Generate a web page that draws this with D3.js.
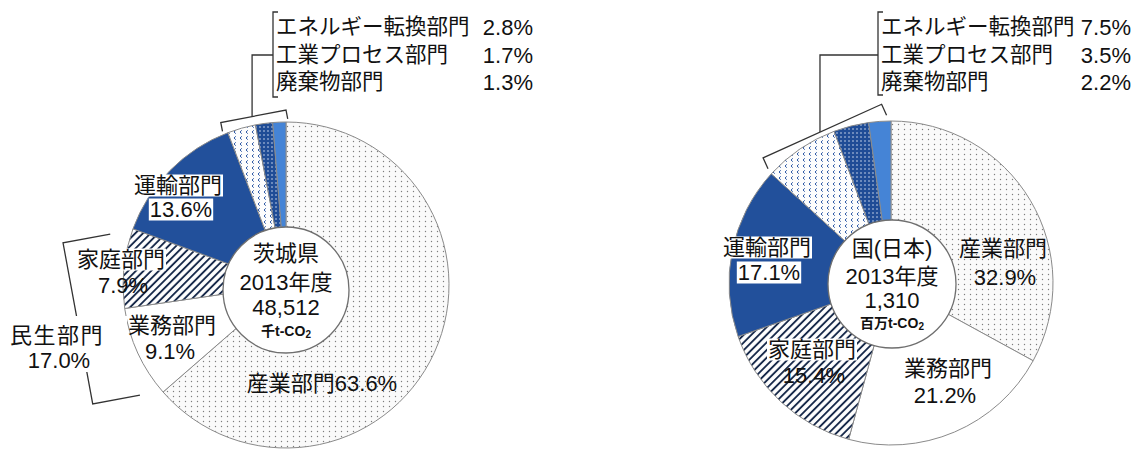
<!DOCTYPE html>
<html><head><meta charset="utf-8">
<script src="https://cdn.jsdelivr.net/npm/d3@7"></script>
<style>
body{margin:0;background:#fff}
text{font-family:"Liberation Sans","Noto Sans CJK JP",sans-serif;fill:#111}
</style></head>
<body><svg id="c" width="1140" height="451"></svg>
<script>
// ---- data ----
const categories = ["産業部門","業務部門","家庭部門","運輸部門","エネルギー転換部門","工業プロセス部門","廃棄物部門"];
const ibarakiValues = [63.6, 9.1, 7.9, 13.6, 2.8, 1.7, 1.3];
const japanValues   = [32.9, 21.2, 15.4, 17.1, 7.5, 3.5, 2.2];
const ibarakiTitle = ["茨城県","2013年度","48,512"];
const ibarakiUnit = "千t-CO";
const japanTitle = ["国(日本)","2013年度","1,310"];
const japanUnit = "百万t-CO";
const smallGroup = ["エネルギー転換部門","工業プロセス部門","廃棄物部門"];
const minseiGroup = ["業務部門","家庭部門"];
const minseiText = ["民生部門","17.0%"];

// ---- styles ----
const fills = {
  "産業部門":"url(#pDots)","業務部門":"#ffffff","家庭部門":"url(#pHatch)",
  "運輸部門":"#22509b","エネルギー転換部門":"url(#pChev)",
  "工業プロセス部門":"url(#pNavyDots)","廃棄物部門":"#4584d6"
};
const fmt = v => d3.format(".1f")(v) + "%";
const FS = 22;

const charts = [
  {values: ibarakiValues, title: ibarakiTitle, unit: ibarakiUnit,
   cx:286, cy:285, R:163, inner:{cx:286, cy:290, r:63}, titleY:[253,282,307,331],
   legendX:273, pctRight:533, legendY:[27,55,82], legendTop:12, legendBottom:97,
   small:{rOff:12, pad0:-1, pad1:0, tick:9},
   minsei:{rOff:20, pad:4, depth:48, text:[57,335], pctY:360, box:[5,316,122,56]},
   labels:{
     "運輸部門":{name:[178,185], pct:[181,209], boxName:true, boxPct:true},
     "家庭部門":{name:[121,259], pct:[123,285], boxName:true},
     "業務部門":{name:[172,325], pct:[170,351]},
     "産業部門":{single:[322,383]}
   }},
  {values: japanValues, title: japanTitle, unit: japanUnit,
   cx:891, cy:283, R:162, inner:{cx:892, cy:284, r:64}, titleY:[248,276,300,323],
   legendX:878, pctRight:1131, legendY:[27,55,82], legendTop:12, legendBottom:95,
   small:{rOff:17, pad0:2, pad1:-3, tick:12},
   labels:{
     "運輸部門":{name:[767,247], pct:[769,272], boxName:true, boxPct:true},
     "家庭部門":{name:[812,349], pct:[814,375], boxName:true},
     "業務部門":{name:[948,368], pct:[945,395]},
     "産業部門":{name:[1003,248], pct:[1005,277]}
   }}
];

const svg = d3.select("#c");
svg.append("rect").attr("width",1140).attr("height",451).attr("fill","#fff");

// ---- patterns ----
const defs = svg.append("defs");
let p = defs.append("pattern").attr("id","pDots").attr("patternUnits","userSpaceOnUse").attr("width",6).attr("height",5);
p.append("rect").attr("width",6).attr("height",5).attr("fill","#fafafa");
p.append("circle").attr("cx",1.5).attr("cy",1.5).attr("r",0.7).attr("fill","#7d7d7d");

p = defs.append("pattern").attr("id","pHatch").attr("patternUnits","userSpaceOnUse").attr("width",5.4).attr("height",5.4).attr("patternTransform","rotate(45)");
p.append("rect").attr("width",5.4).attr("height",5.4).attr("fill","#fff");
p.append("line").attr("x1",2.7).attr("x2",2.7).attr("y1",0).attr("y2",5.4).attr("stroke","#17294a").attr("stroke-width",1.9);

p = defs.append("pattern").attr("id","pChev").attr("patternUnits","userSpaceOnUse").attr("width",6).attr("height",6);
p.append("rect").attr("width",6).attr("height",6).attr("fill","#fdfdfd");
p.append("path").attr("d","M3.8,1.3 L2,3 L3.8,4.7").attr("stroke","#2f5aa6").attr("stroke-width",1).attr("fill","none");

p = defs.append("pattern").attr("id","pNavyDots").attr("patternUnits","userSpaceOnUse").attr("width",4).attr("height",4);
p.append("rect").attr("width",4).attr("height",4).attr("fill","#1f4c96");
p.append("circle").attr("cx",2).attr("cy",2).attr("r",0.75).attr("fill","#dfe8f6");

const pie = d3.pie().sort(null).value(d => d.v);
const rad = Math.PI/180;

function pt(c, a, r){ return [c.cx + r*Math.sin(a), c.cy - r*Math.cos(a)]; }

function labelText(g, x, y, str, size, box, weight){
  const grp = g.append("g");
  const t = grp.append("text").attr("x",x).attr("y",y).attr("text-anchor","middle")
    .attr("dominant-baseline","central").attr("font-size",size).text(str);
  if (weight) t.attr("font-weight", weight);
  if (box){
    const b = t.node().getBBox();
    grp.insert("rect","text").attr("x",b.x-1).attr("y",b.y+2).attr("width",b.width+2).attr("height",b.height-3).attr("fill","#fff");
  }
  return t;
}

charts.forEach(c => {
  const data = categories.map((k,i) => ({k, v:c.values[i]}));
  const arcs = pie(data);
  const g = svg.append("g");
  const arc = d3.arc().innerRadius(0).outerRadius(c.R);

  // slices
  g.append("g").attr("transform",`translate(${c.cx},${c.cy})`)
    .selectAll("path").data(arcs).join("path")
    .attr("d", arc).attr("fill", d => fills[d.data.k])
    .attr("stroke","#8a8a8a").attr("stroke-width",1);

  // inner circle
  g.append("circle").attr("cx",c.inner.cx).attr("cy",c.inner.cy).attr("r",c.inner.r)
    .attr("fill","#fff").attr("stroke","#6f6f6f").attr("stroke-width",1.3);

  // center text
  c.title.forEach((s,i) => labelText(g, c.inner.cx, c.titleY[i], s, FS, false));
  const u = g.append("text").attr("x",c.inner.cx).attr("y",c.titleY[3]).attr("text-anchor","middle")
    .attr("dominant-baseline","central").attr("font-size",14).attr("font-weight","bold").text(c.unit);
  u.append("tspan").attr("font-size",10).attr("dy",3).text("2");

  const line = d3.line();
  const stroke = s => s.attr("fill","none").attr("stroke","#333").attr("stroke-width",1.3);

  // bracket over the small slices
  const sm = arcs.filter(d => smallGroup.includes(d.data.k));
  const a0 = d3.min(sm, d => d.startAngle) + c.small.pad0*rad;
  const a1 = d3.max(sm, d => d.endAngle) + c.small.pad1*rad;
  const rB = c.R + c.small.rOff;
  const e0 = pt(c, a0, rB), e1 = pt(c, a1, rB);
  const am = (a0+a1)/2, nx = -Math.sin(am), ny = Math.cos(am);
  stroke(g.append("path").attr("d", line([
    [e0[0]+nx*c.small.tick, e0[1]+ny*c.small.tick], e0, e1, [e1[0]+nx*c.small.tick, e1[1]+ny*c.small.tick]
  ])));
  // connector to legend
  const cxn = e0[0] + (e1[0]-e0[0])*0.48;
  const cyn = e0[1] + (e1[1]-e0[1])*0.48;
  stroke(g.append("path").attr("d", line([[cxn,cyn],[cxn,c.legendY[1]],[c.legendX,c.legendY[1]]])));
  // legend bracket
  stroke(g.append("path").attr("d", line([[c.legendX+5,c.legendTop],[c.legendX,c.legendTop],[c.legendX,c.legendBottom],[c.legendX+5,c.legendBottom]])));
  smallGroup.forEach((k,i) => {
    const v = c.values[categories.indexOf(k)];
    g.append("text").attr("x",c.legendX+3).attr("y",c.legendY[i]).attr("dominant-baseline","central")
      .attr("font-size",21.5).text(k);
    g.append("text").attr("x",c.pctRight).attr("y",c.legendY[i]).attr("dominant-baseline","central")
      .attr("text-anchor","end").attr("font-size",22).text(fmt(v));
  });

  // minsei bracket (left chart)
  if (c.minsei){
    const mg = arcs.filter(d => minseiGroup.includes(d.data.k));
    const b0 = d3.min(mg, d => d.startAngle) + c.minsei.pad*rad;
    const b1 = d3.max(mg, d => d.endAngle) - c.minsei.pad*rad;
    const rr = c.R + c.minsei.rOff;
    const f0 = pt(c, b0, rr), f1 = pt(c, b1, rr);
    const bm = (b0+b1)/2, ox = Math.sin(bm), oy = -Math.cos(bm), dp = c.minsei.depth;
    stroke(g.append("path").attr("d", line([f0,[f0[0]+ox*dp,f0[1]+oy*dp],[f1[0]+ox*dp,f1[1]+oy*dp],f1])));
    const bx = c.minsei.box;
    g.append("rect").attr("x",bx[0]).attr("y",bx[1]).attr("width",bx[2]).attr("height",bx[3]).attr("fill","#fff");
    const mt = labelText(g, c.minsei.text[0], c.minsei.text[1], minseiText[0], 22, false);
    mt.attr("letter-spacing",1.5);
    labelText(g, c.minsei.text[0]+2, c.minsei.pctY, minseiText[1], 22, false);
  }

  // slice labels
  Object.entries(c.labels).forEach(([k,L]) => {
    const v = c.values[categories.indexOf(k)];
    if (L.single){
      labelText(g, L.single[0], L.single[1], k + fmt(v), FS, false);
    } else {
      labelText(g, L.name[0], L.name[1], k, FS, !!L.boxName);
      labelText(g, L.pct[0], L.pct[1], fmt(v), FS, !!L.boxPct);
    }
  });
});
</script></body></html>
